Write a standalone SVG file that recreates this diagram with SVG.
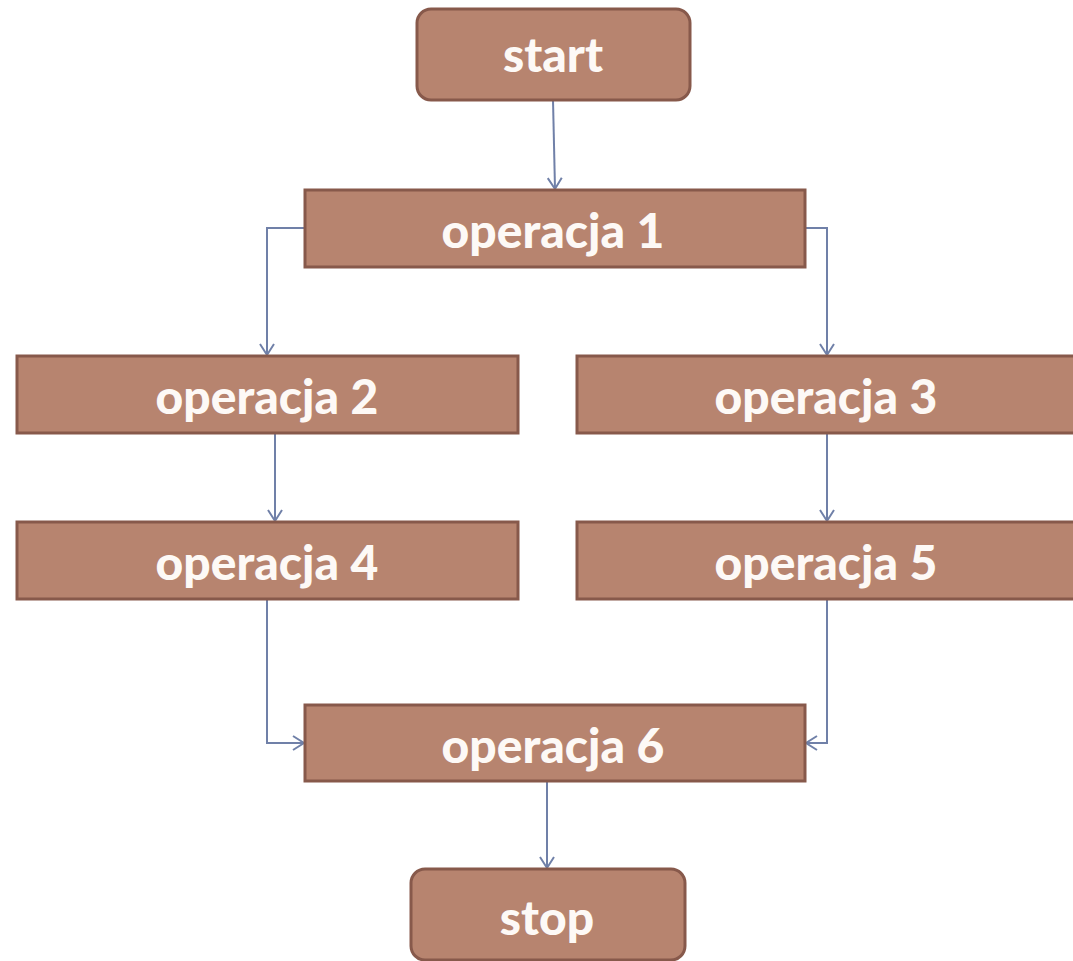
<svg xmlns="http://www.w3.org/2000/svg" width="1073" height="961" viewBox="0 0 1073 961">
<defs>
<style>
.box{fill:#b7846f;stroke:#87594b;stroke-width:3}
.lbl{font-family:Lato,"Open Sans",sans-serif;font-weight:900;font-size:48px;fill:#fdf9f6;text-anchor:middle}
.con{fill:none;stroke:#7080a8;stroke-width:2}
</style>
<marker id="arr" markerWidth="20" markerHeight="20" refX="12" refY="8" orient="auto" markerUnits="userSpaceOnUse" viewBox="0 0 20 16">
<path d="M1,1 L12,8 L1,15" fill="none" stroke="#7080a8" stroke-width="2"/>
</marker>
</defs>
<rect width="1073" height="961" fill="#ffffff"/>
<g id="connectors">
<path class="con" d="M553,100 L555,189" marker-end="url(#arr)"/>
<path class="con" d="M305,228 L267,228 L267,355" marker-end="url(#arr)"/>
<path class="con" d="M805,228 L827,228 L827,355" marker-end="url(#arr)"/>
<path class="con" d="M275,433 L275,521" marker-end="url(#arr)"/>
<path class="con" d="M827,433 L827,521" marker-end="url(#arr)"/>
<path class="con" d="M267,599 L267,743 L304,743" marker-end="url(#arr)"/>
<path class="con" d="M827,599 L827,743 L806,743" marker-end="url(#arr)"/>
<path class="con" d="M547,781 L547,868" marker-end="url(#arr)"/>
</g>
<g id="start"><rect class="box" x="417" y="9" width="273" height="91" rx="14"/><text class="lbl" x="553" y="72">start</text></g>
<g id="op1"><rect class="box" x="305" y="190" width="500" height="77"/><text class="lbl" x="553" y="248">operacja 1</text></g>
<g id="op2"><rect class="box" x="17" y="356" width="501" height="77"/><text class="lbl" x="267" y="414">operacja 2</text></g>
<g id="op3"><rect class="box" x="577" y="356" width="510" height="77"/><text class="lbl" x="826" y="414">operacja 3</text></g>
<g id="op4"><rect class="box" x="17" y="522" width="501" height="77"/><text class="lbl" x="267" y="580">operacja 4</text></g>
<g id="op5"><rect class="box" x="577" y="522" width="510" height="77"/><text class="lbl" x="826" y="580">operacja 5</text></g>
<g id="op6"><rect class="box" x="305" y="705" width="500" height="76"/><text class="lbl" x="553" y="763">operacja 6</text></g>
<g id="stop"><rect class="box" x="411" y="869" width="274" height="91" rx="14"/><text class="lbl" x="547" y="935">stop</text></g>
</svg>
